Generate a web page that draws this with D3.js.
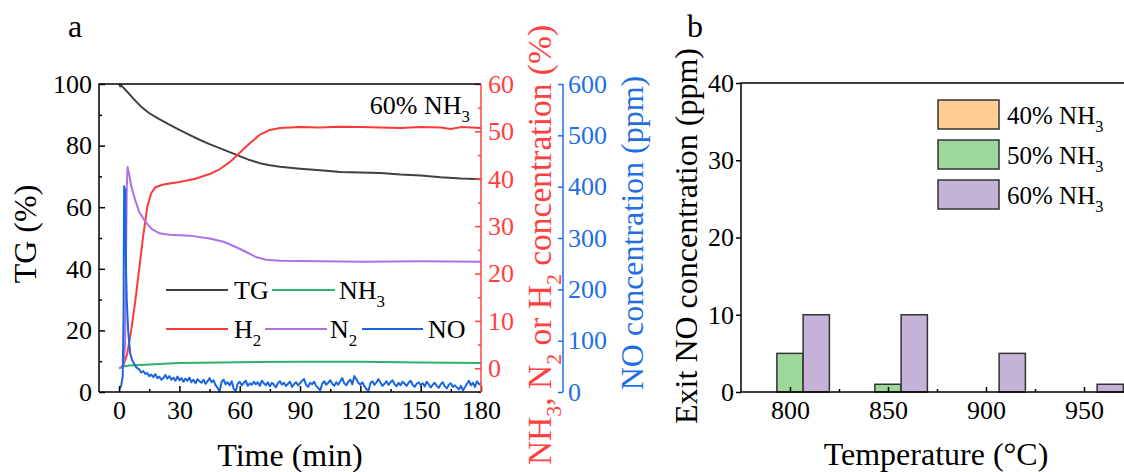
<!DOCTYPE html>
<html>
<head>
<meta charset="utf-8">
<script src="https://cdn.jsdelivr.net/npm/d3@7"></script>
<style>
  body { margin: 0; background: #fff; }
  svg, svg text { font-family: "Liberation Serif", "Times New Roman", serif; }
</style>
</head>
<body>
<svg id="svg"></svg>
<script>
// ---- panel a: time series (min, value) ----
const tgData = [[0,100],[0.6,99.2],[1,99.6],[2,98.9],[3,98.2],[5,96.8],[8,94.6],[11,92.6],[15,90.5],[20,88.6],[25,86.8],[30,85.1],
  [35,83.5],[40,81.9],[45,80.5],[50,79.2],[55,77.9],[60,76.6],[65,75.3],[70,74.3],[75,73.6],[80,73.1],[90,72.5],
  [100,72],[110,71.4],[120,71.3],[130,71.1],[140,70.6],[150,70.3],[160,69.7],[170,69.3],[180,69.1]];
const nh3Data = [[2,0.4],[5,0.6],[15,0.8],[30,1.1],[60,1.3],[90,1.4],[120,1.4],[150,1.2],[180,1.1]];
const h2Data = [[0,0],[2,0.5],[4,3],[6,8],[8,14],[10,21],[12,28],[14,34],[16,37],[18,38.2],[22,38.8],[30,39.3],
  [38,40],[45,41],[50,42],[55,43.5],[60,45.5],[65,47.5],[70,49.3],[75,50.3],[80,50.7],[90,50.9],[100,50.8],
  [110,51],[120,50.9],[130,50.8],[140,50.7],[150,50.9],[160,50.8],[165,50.5],[170,50.9],[180,50.7]];
const n2Data = [[0,0],[2,0.3],[3,5],[3.8,38],[4.2,42.5],[5,41],[6,38.5],[8,35.5],[10,33],[13,31],[16,29.5],
  [20,28.5],[25,28.2],[35,28],[45,27.4],[52,26.7],[58,25.6],[63,24.6],[68,23.5],[73,22.9],[80,22.7],[100,22.6],
  [120,22.5],[150,22.6],[180,22.5]];
// NO (ppm): start-up spike, then one reading per minute from 20 to 180 min
const noHead = [[0,5],[1,12],[1.8,30],[2.2,150],[2.5,401],[2.8,300],[3.1,395],[3.4,250],[3.8,180],[4.5,120],
  [5.5,75],[6.5,62],[7.5,55],[8.5,48],[10,44],[11,38],[12,41],[13,35],[14,37],[15,31],[16,34],[17,29],[18,35],[19,27]];
const noTail = [30,24,27,33,26,31,24,28,22,30,23,27,20,26,22,28,19,24,17,25,
  21,18,24,16,21,27,19,23,13,8,1,20,24,15,19,13,21,6,2,16,
  20,13,18,22,12,17,14,20,15,19,12,22,17,13,19,11,18,14,9,17,
  21,14,18,12,16,20,10,15,19,13,17,22,25,14,10,18,15,20,12,8,
  3,16,21,14,18,23,16,12,19,14,21,27,17,13,20,24,15,31,25,18,
  14,19,11,6,2,17,21,14,19,25,18,12,16,21,14,19,23,15,11,18,
  13,20,16,12,18,22,14,10,16,19,13,17,11,20,15,9,14,18,12,8,
  15,19,11,7,14,17,10,13,9,5,12,3,9,16,22,13,18,10,21,15,17];
const noData = noHead.concat(noTail.map((v, i) => [20 + i, v]));

const timeTicks = [0, 30, 60, 90, 120, 150, 180];
const tgTicks = [0, 20, 40, 60, 80, 100];
const pctTicks = [0, 10, 20, 30, 40, 50, 60];
const noTicks = [0, 100, 200, 300, 400, 500, 600];

// ---- panel b: exit NO (ppm) by temperature ----
const temps = [800, 850, 900, 950];
const seriesNames = ["40% NH_3", "50% NH_3", "60% NH_3"];
const exitNO40 = [0, 0, 0, 0];
const exitNO50 = [5, 1, 0, 0];
const exitNO60 = [10, 10, 5, 1];
const exitTicks = [0, 10, 20, 30, 40];

const C = {
  tg: '#404040', nh3: '#2fb36a', h2: '#ff3838', n2: '#b06fe6', no: '#1b66e0',
  red: '#ff4040', blue: '#1f6fe3',
  bars: ['#ffcc91', '#9dd79a', '#c5b3d7']
};

const W = 1124, H = 472;
const svg = d3.select('#svg').attr('width', W).attr('height', H).attr('viewBox', [0, 0, W, H]);

// text with "_3" style subscripts
function richText(sel, str, size) {
  const sub = size * 0.65, shift = size * 0.3;
  let down = false;
  str.split(/(_\d)/).filter(s => s).forEach(p => {
    const t = sel.append('tspan');
    if (p[0] === '_') {
      t.attr('font-size', sub).attr('dy', down ? 0 : shift).text(p.slice(1));
      down = true;
    } else {
      t.attr('dy', down ? -shift : 0).text(p);
      down = false;
    }
  });
  return sel;
}

function styleAxis(g, color, size) {
  g.attr('font-family', null).attr('font-size', size);
  g.select('.domain').remove();
  g.selectAll('line').attr('stroke', color).attr('stroke-width', 1.5);
  g.selectAll('text').attr('fill', color);
}

// ================= panel a =================
const pa = { l: 99, r: 481, t: 84, b: 392 };
const x = d3.scaleLinear([-10, 180], [pa.l, pa.r]);
const yTG = d3.scaleLinear([0, 100], [pa.b, pa.t]);
const yPct = d3.scaleLinear([-5, 60], [pa.b, pa.t]);
const yNO = d3.scaleLinear([0, 600], [pa.b, pa.t]);

const gA = svg.append('g');

const lineOf = (ys) => d3.line().x(d => x(d[0])).y(d => ys(d[1]));
const series = [
  [tgData, yTG, C.tg], [h2Data, yPct, C.h2], [n2Data, yPct, C.n2],
  [nh3Data, yPct, C.nh3], [noData, yNO, C.no]
];
for (const [data, ys, col] of series) {
  gA.append('path')
    .attr('d', lineOf(ys)(data))
    .attr('fill', 'none')
    .attr('stroke', col)
    .attr('stroke-width', 2)
    .attr('stroke-linejoin', 'round');
}

// axes
gA.append('g').attr('transform', `translate(0,${pa.b})`)
  .call(d3.axisBottom(x).tickValues(timeTicks).tickSize(-6).tickPadding(9))
  .call(g => styleAxis(g, '#000', 26));
gA.append('g').attr('transform', `translate(0,${pa.b})`)
  .call(d3.axisBottom(x).tickValues(d3.range(15, 180, 30)).tickSize(-3).tickFormat(''))
  .call(g => styleAxis(g, '#000', 26));
gA.append('g').attr('transform', `translate(${pa.l},0)`)
  .call(d3.axisLeft(yTG).tickValues(tgTicks).tickSize(-6).tickPadding(7))
  .call(g => styleAxis(g, '#000', 26));
gA.append('g').attr('transform', `translate(${pa.l},0)`)
  .call(d3.axisLeft(yTG).tickValues(d3.range(10, 100, 20)).tickSize(-3).tickFormat(''))
  .call(g => styleAxis(g, '#000', 26));
gA.append('g').attr('transform', `translate(${pa.r},0)`)
  .call(d3.axisRight(yPct).tickValues(pctTicks).tickSize(-6).tickPadding(7))
  .call(g => styleAxis(g, C.red, 26));
gA.append('g').attr('transform', `translate(${pa.r},0)`)
  .call(d3.axisRight(yPct).tickValues(d3.range(-5, 60, 10)).tickSize(-3).tickFormat(''))
  .call(g => styleAxis(g, C.red, 26));
const blueX = 563;
gA.append('g').attr('transform', `translate(${blueX},0)`)
  .call(d3.axisRight(yNO).tickValues(noTicks).tickSize(-5).tickPadding(5))
  .call(g => styleAxis(g, C.blue, 26));

// frame
gA.append('path').attr('d', `M${pa.l},${pa.b}V${pa.t}H${pa.r}`).attr('fill', 'none').attr('stroke', '#000').attr('stroke-width', 1.5);
gA.append('line').attr('x1', pa.l).attr('x2', pa.r).attr('y1', pa.b).attr('y2', pa.b).attr('stroke', '#000').attr('stroke-width', 1.5);
gA.append('line').attr('x1', pa.r).attr('x2', pa.r).attr('y1', pa.t).attr('y2', pa.b).attr('stroke', C.red).attr('stroke-width', 1.5);
gA.append('line').attr('x1', blueX).attr('x2', blueX).attr('y1', pa.t).attr('y2', pa.b).attr('stroke', C.blue).attr('stroke-width', 1.5);

// titles
gA.append('text').attr('x', 68).attr('y', 37).attr('font-size', 32).text('a');
gA.append('text').attr('transform', 'translate(36,234) rotate(-90)').attr('text-anchor', 'middle').attr('font-size', 32).text('TG (%)');
gA.append('text').attr('x', 290).attr('y', 466).attr('text-anchor', 'middle').attr('font-size', 32).text('Time (min)');
richText(gA.append('text').attr('transform', 'translate(551,245) rotate(-90)').attr('text-anchor', 'middle')
  .attr('font-size', 33.5).attr('fill', C.red), 'NH_3, N_2 or H_2 concentration (%)', 33.5);
gA.append('text').attr('transform', 'translate(643,233) rotate(-90)').attr('text-anchor', 'middle')
  .attr('font-size', 32).attr('fill', C.blue).text('NO concentration (ppm)');
richText(gA.append('text').attr('x', 470).attr('y', 114).attr('text-anchor', 'end').attr('font-size', 26), '60% NH_3', 26);

// legend
const legendA = [
  { name: 'TG', col: C.tg, x0: 166, x1: 228, tx: 234, y: 290 },
  { name: 'NH_3', col: C.nh3, x0: 272, x1: 335, tx: 339, y: 290 },
  { name: 'H_2', col: C.h2, x0: 166, x1: 228, tx: 234, y: 329 },
  { name: 'N_2', col: C.n2, x0: 265, x1: 327, tx: 330, y: 329 },
  { name: 'NO', col: C.no, x0: 362, x1: 423, tx: 428, y: 329 }
];
for (const it of legendA) {
  gA.append('line').attr('x1', it.x0).attr('x2', it.x1).attr('y1', it.y).attr('y2', it.y)
    .attr('stroke', it.col).attr('stroke-width', 2);
  richText(gA.append('text').attr('x', it.tx).attr('y', it.y + 9).attr('font-size', 26), it.name, 26);
}

// ================= panel b =================
const pb = { l: 741, t: 83, b: 392 };
const xB = d3.scaleLinear([775, 975], [pb.l, pb.l + 200 * 1.96]);
const yB = d3.scaleLinear([0, 40], [pb.b, pb.t]);
const gB = svg.append('g');

const barVals = [exitNO40, exitNO50, exitNO60];
const bw = xB(813.4) - xB(800);
barVals.forEach((vals, k) => {
  gB.append('g').selectAll('rect')
    .data(temps.map((t, i) => ({ t, v: vals[i] })).filter(d => d.v > 0))
    .join('rect')
      .attr('x', d => xB(d.t) + (k - 1) * bw - bw / 2)
      .attr('width', bw)
      .attr('y', d => yB(d.v))
      .attr('height', d => yB(0) - yB(d.v))
      .attr('fill', C.bars[k])
      .attr('stroke', '#333')
      .attr('stroke-width', 1.5);
});

gB.append('g').attr('transform', `translate(0,${pb.b})`)
  .call(d3.axisBottom(xB).tickValues(temps).tickSize(-5).tickPadding(9))
  .call(g => styleAxis(g, '#000', 26));
gB.append('g').attr('transform', `translate(0,${pb.b})`)
  .call(d3.axisBottom(xB).tickValues([825, 875, 925]).tickSize(-3).tickFormat(''))
  .call(g => styleAxis(g, '#000', 26));
gB.append('g').attr('transform', `translate(${pb.l},0)`)
  .call(d3.axisLeft(yB).tickValues(exitTicks).tickSize(5).tickPadding(2))
  .call(g => styleAxis(g, '#000', 26));
gB.append('path').attr('d', `M${W + 10},${pb.t}H${pb.l}V${pb.b}H${W + 10}`)
  .attr('fill', 'none').attr('stroke', '#000').attr('stroke-width', 1.5);

gB.append('text').attr('x', 687).attr('y', 37).attr('font-size', 32).text('b');
gB.append('text').attr('transform', 'translate(697,236) rotate(-90)').attr('text-anchor', 'middle')
  .attr('font-size', 32).text('Exit NO concentration (ppm)');
gB.append('text').attr('x', 936).attr('y', 465).attr('text-anchor', 'middle').attr('font-size', 32).text('Temperature (\u00B0C)');

seriesNames.forEach((name, k) => {
  const y0 = 100 + k * 40;
  gB.append('rect').attr('x', 938).attr('y', y0).attr('width', 61).attr('height', 29)
    .attr('fill', C.bars[k]).attr('stroke', '#333').attr('stroke-width', 1.5);
  richText(gB.append('text').attr('x', 1007).attr('y', y0 + 24).attr('font-size', 25), name, 25);
});
</script>
</body>
</html>
